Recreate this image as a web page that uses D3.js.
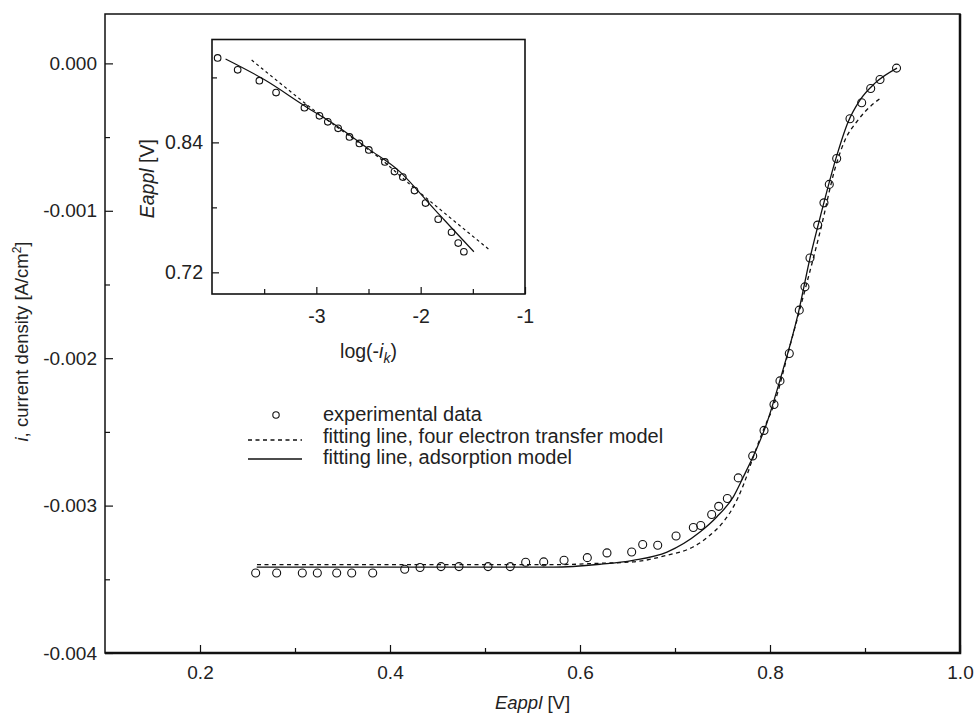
<!DOCTYPE html>
<html>
<head>
<meta charset="utf-8">
<script src="https://cdn.jsdelivr.net/npm/d3@7"></script>
<style>
  body { margin: 0; background: #fff; }
  text { font-family: "Liberation Sans", Arial, sans-serif; fill: #222; }
</style>
</head>
<body>
<script>
// main panel: applied potential [V] vs current density [A/cm2]
var expData = [
  [0.2586,-0.003457],[0.2807,-0.003457],[0.3077,-0.003457],[0.3235,-0.003457],[0.3439,-0.003457],
  [0.3597,-0.003457],[0.3818,-0.003457],[0.4155,-0.003432],[0.4316,-0.003420],[0.4537,-0.003414],
  [0.4726,-0.003414],[0.5032,-0.003414],[0.5266,-0.003414],[0.5428,-0.003384],[0.5618,-0.003382],
  [0.5832,-0.003371],[0.6077,-0.003353],[0.6284,-0.003321],[0.6544,-0.003315],[0.6660,-0.003264],
  [0.6818,-0.003269],[0.7011,-0.003206],[0.7193,-0.003149],[0.7271,-0.003135],[0.7386,-0.003060],
  [0.7460,-0.003005],[0.7551,-0.002952],[0.7666,-0.002812],[0.7818,-0.002663],[0.7937,-0.002490],
  [0.8042,-0.002314],[0.8105,-0.002154],[0.8203,-0.001968],[0.8308,-0.001674],[0.8368,-0.001516],
  [0.8421,-0.001320],[0.8502,-0.001097],[0.8568,-0.000946],[0.8624,-0.000821],[0.8702,-0.000645],
  [0.8842,-0.000376],[0.8965,-0.000267],[0.9060,-0.000170],[0.9158,-0.000109],[0.9332,-0.000032]
];

var fourElectronFit = [
  [0.2600,-0.003400],[0.5789,-0.003400],[0.6211,-0.003391],[0.6558,-0.003382],[0.6916,-0.003337],
  [0.7189,-0.003281],[0.7368,-0.003201],[0.7508,-0.003111],[0.7614,-0.003009],[0.7719,-0.002862],
  [0.7824,-0.002670],[0.7929,-0.002489],[0.8042,-0.002314],[0.8211,-0.001914],[0.8368,-0.001538],
  [0.8526,-0.001145],[0.8695,-0.000690],[0.8789,-0.000521],[0.8913,-0.000396],[0.9000,-0.000328],
  [0.9158,-0.000238]
];

var adsorptionFit = [
  [0.2597,-0.003418],[0.5716,-0.003418],[0.6211,-0.003398],[0.6558,-0.003371],[0.6916,-0.003315],
  [0.7263,-0.003179],[0.7439,-0.003077],[0.7614,-0.002941],[0.7719,-0.002806],[0.7860,-0.002613],
  [0.7965,-0.002443],[0.8105,-0.002149],[0.8305,-0.001674],[0.8421,-0.001321],[0.8547,-0.000996],
  [0.8695,-0.000643],[0.8821,-0.000399],[0.8947,-0.000249],[0.9105,-0.000134],[0.9337,-0.000032]
];

// inset: log(-ik) vs Eappl
var insetExp = [
  [-3.946,0.918],[-3.754,0.907],[-3.546,0.897],[-3.386,0.886],[-3.114,0.872],[-2.970,0.8645],
  [-2.890,0.859],[-2.791,0.853],[-2.682,0.845],[-2.587,0.839],[-2.497,0.833],[-2.343,0.822],
  [-2.251,0.813],[-2.171,0.808],[-2.059,0.7955],[-1.953,0.784],[-1.832,0.769],[-1.704,0.757],
  [-1.640,0.747],[-1.586,0.739]
];
var insetFourElectron = [
  [-3.62,0.916],[-3.3,0.891],[-3.0,0.868],[-2.7,0.847],[-2.4,0.826],[-2.1,0.801],[-1.8,0.777],[-1.35,0.7415]
];
var insetAdsorption = [
  [-3.87,0.917],[-3.5,0.898],[-3.1,0.873],[-2.8,0.855],[-2.5,0.834],[-2.2,0.813],[-2.06,0.799],
  [-1.95,0.787],[-1.78,0.769],[-1.49,0.739]
];

var xMajor = [0.2, 0.4, 0.6, 0.8, 1.0];
var xMinor = [0.3, 0.5, 0.7, 0.9];
var yMajor = [0, -0.001, -0.002, -0.003, -0.004];
var yMinor = [-0.0005, -0.0015, -0.0025, -0.0035];
var insetXMajor = [-3, -2, -1];
var insetXMinor = [-3.5, -2.5, -1.5];
var insetYMajor = [0.72, 0.84];
var insetYMinor = [0.78, 0.90];

var legendLabels = ["experimental data", "fitting line, four electron transfer model", "fitting line, adsorption model"];

var w = 974, h = 717;
var svg = d3.select("body").append("svg").attr("width", w).attr("height", h);

var L = 105, R = 960, T = 14, B = 653;
var x = d3.scaleLinear().domain([0.1, 1.0]).range([L, R]);
var y = d3.scaleLinear().domain([-0.004, 0.000335]).range([B, T]);

// axes, ticks pointing inward
svg.append("g").attr("transform", "translate(0," + B + ")")
  .call(d3.axisBottom(x).tickValues(xMajor).tickSize(-8).tickPadding(13)
    .tickFormat(function(d) { return d.toFixed(1); }));
svg.append("g").attr("transform", "translate(0," + B + ")")
  .call(d3.axisBottom(x).tickValues(xMinor).tickSize(-5).tickFormat(""));
svg.append("g").attr("transform", "translate(" + L + ",0)")
  .call(d3.axisLeft(y).tickValues(yMajor).tickSize(-8).tickPadding(8)
    .tickFormat(function(d) { return d.toFixed(3); }));
svg.append("g").attr("transform", "translate(" + L + ",0)")
  .call(d3.axisLeft(y).tickValues(yMinor).tickSize(-5).tickFormat(""));

svg.selectAll(".domain").remove();
svg.selectAll(".tick line").attr("stroke", "#111").attr("stroke-width", 1.2);
svg.selectAll(".tick text").attr("font-size", 19).style("fill", "#222")
  .attr("font-family", "Liberation Sans, Arial, sans-serif");

// frame
svg.append("rect").attr("x", L).attr("y", T).attr("width", R - L).attr("height", B - T)
  .attr("fill", "none").attr("stroke", "#111").attr("stroke-width", 1.5);
svg.append("path").attr("d", "M" + L + "," + B + "H" + R + "V" + T)
  .attr("fill", "none").attr("stroke", "#111").attr("stroke-width", 2.5);

// axis titles
var xt = svg.append("text").attr("x", (L + R) / 2).attr("y", 709)
  .attr("text-anchor", "middle").attr("font-size", 18.5);
xt.append("tspan").attr("font-style", "italic").text("Eappl");
xt.append("tspan").text(" [V]");

var yt = svg.append("text").attr("transform", "translate(28," + ((T + B) / 2 + 8) + ") rotate(-90)")
  .attr("text-anchor", "middle").attr("font-size", 18.5);
yt.append("tspan").attr("font-style", "italic").text("i");
yt.append("tspan").text(", current density [A/cm");
yt.append("tspan").attr("font-size", 12).attr("dy", -7).text("2");
yt.append("tspan").attr("dy", 7).text("]");

// curves
var line = d3.line().x(function(d) { return x(d[0]); }).y(function(d) { return y(d[1]); })
  .curve(d3.curveMonotoneX);

svg.append("path").datum(fourElectronFit).attr("d", line)
  .attr("fill", "none").attr("stroke", "#111").attr("stroke-width", 1.3)
  .attr("stroke-dasharray", "4,3.5");
svg.append("path").datum(adsorptionFit).attr("d", line)
  .attr("fill", "none").attr("stroke", "#111").attr("stroke-width", 1.3);

svg.selectAll(".exp").data(expData).enter().append("circle")
  .attr("class", "exp")
  .attr("cx", function(d) { return x(d[0]); })
  .attr("cy", function(d) { return y(d[1]); })
  .attr("r", 4)
  .attr("fill", "none").attr("stroke", "#111").attr("stroke-width", 1.1);

// legend
var legRows = [414, 436, 457];
var leg = svg.append("g");
leg.append("circle").attr("cx", 276).attr("cy", legRows[0] + 1).attr("r", 3.2)
  .attr("fill", "none").attr("stroke", "#111").attr("stroke-width", 1.1);
leg.append("line").attr("x1", 248).attr("x2", 302).attr("y1", legRows[1] + 4).attr("y2", legRows[1] + 4)
  .attr("stroke", "#111").attr("stroke-width", 1.3).attr("stroke-dasharray", "4,3.5");
leg.append("line").attr("x1", 248).attr("x2", 302).attr("y1", legRows[2] + 2).attr("y2", legRows[2] + 2)
  .attr("stroke", "#111").attr("stroke-width", 1.3);
leg.selectAll("text").data(legendLabels).enter().append("text")
  .attr("x", 323)
  .attr("y", function(d, i) { return legRows[i] + 7; })
  .attr("font-size", 20)
  .text(function(d) { return d; });

// inset
var iL = 212, iR = 525, iT = 39.5, iB = 294;
var ix = d3.scaleLinear().domain([-4, -1]).range([iL, iR]);
var iy = d3.scaleLinear().domain([0.70, 0.935]).range([iB, iT]);
var inset = svg.append("g");

inset.append("rect").attr("x", iL).attr("y", iT).attr("width", iR - iL).attr("height", iB - iT)
  .attr("fill", "#fff");

inset.append("g").attr("transform", "translate(0," + iB + ")")
  .call(d3.axisBottom(ix).tickValues(insetXMajor).tickSize(-7).tickPadding(15)
    .tickFormat(function(d) { return d.toFixed(0); }));
inset.append("g").attr("transform", "translate(0," + iB + ")")
  .call(d3.axisBottom(ix).tickValues(insetXMinor).tickSize(-5).tickFormat(""));
inset.append("g").attr("transform", "translate(" + iL + ",0)")
  .call(d3.axisLeft(iy).tickValues(insetYMajor).tickSize(-7).tickPadding(9)
    .tickFormat(function(d) { return d.toFixed(2); }));
inset.append("g").attr("transform", "translate(" + iL + ",0)")
  .call(d3.axisLeft(iy).tickValues(insetYMinor).tickSize(-5).tickFormat(""));
inset.selectAll(".domain").remove();
inset.selectAll(".tick line").attr("stroke", "#111").attr("stroke-width", 1.2);
inset.selectAll(".tick text").attr("font-size", 19.5).style("fill", "#222")
  .attr("font-family", "Liberation Sans, Arial, sans-serif");

var iline = d3.line().x(function(d) { return ix(d[0]); }).y(function(d) { return iy(d[1]); })
  .curve(d3.curveMonotoneX);
inset.append("path").datum(insetFourElectron).attr("d", iline)
  .attr("fill", "none").attr("stroke", "#111").attr("stroke-width", 1.2)
  .attr("stroke-dasharray", "3,3");
inset.append("path").datum(insetAdsorption).attr("d", iline)
  .attr("fill", "none").attr("stroke", "#111").attr("stroke-width", 1.2);
inset.selectAll(".iexp").data(insetExp).enter().append("circle")
  .attr("class", "iexp")
  .attr("cx", function(d) { return ix(d[0]); })
  .attr("cy", function(d) { return iy(d[1]); })
  .attr("r", 3.3)
  .attr("fill", "none").attr("stroke", "#111").attr("stroke-width", 1.1);

inset.append("rect").attr("x", iL).attr("y", iT).attr("width", iR - iL).attr("height", iB - iT)
  .attr("fill", "none").attr("stroke", "#111").attr("stroke-width", 1.6);

var ixt = inset.append("text").attr("x", (iL + iR) / 2).attr("y", 358)
  .attr("text-anchor", "middle").attr("font-size", 19.5);
ixt.append("tspan").text("log(-");
ixt.append("tspan").attr("font-style", "italic").text("i");
ixt.append("tspan").attr("font-style", "italic").attr("font-size", 14).attr("dy", 5).text("k");
ixt.append("tspan").attr("dy", -5).text(")");

var iyt = inset.append("text").attr("transform", "translate(154," + ((iT + iB) / 2 + 12) + ") rotate(-90)")
  .attr("text-anchor", "middle").attr("font-size", 19.5);
iyt.append("tspan").attr("font-style", "italic").text("Eappl");
iyt.append("tspan").text(" [V]");
</script>
</body>
</html>
